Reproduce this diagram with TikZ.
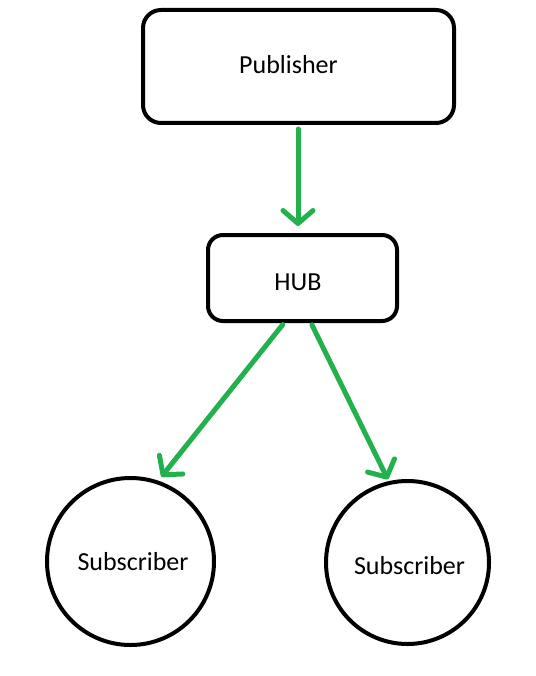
\documentclass[tikz,border=0pt]{standalone}
\usepackage{fontspec}
\setmainfont{Carlito}
\usetikzlibrary{arrows.meta}
\definecolor{pgreen}{HTML}{22B14C}
\begin{document}
\begin{tikzpicture}[x=1pt,y=-1pt,
  box/.style={draw=black,line width=4pt,rounded corners=18pt,fill=white},
  sub/.style={draw=black,line width=4pt,circle,inner sep=0pt},
  lbl/.style={font=\fontsize{26}{30}\selectfont},
  conn/.style={draw=pgreen,line width=5pt,line cap=round,
    -{Straight Barb[length=13pt,width=30pt,line cap=round,line join=round]}}]
\useasboundingbox (0,0) rectangle (535,676);
\node[box,minimum width=311pt,minimum height=113pt] (pub) at (298.5,66.5) {};
\node[lbl] (pubt) at (288.5,65) {Publisher};
\node[box,rounded corners=15pt,minimum width=189pt,minimum height=86pt] (hub) at (302.5,278) {};
\node[lbl] (hubt) at (298,282) {HUB};
\node[sub,minimum size=167pt] (s1) at (130.5,561.5) {};
\node[lbl] (s1t) at (133,562) {Subscriber};
\node[sub,minimum size=163pt] (s2) at (407.5,562.5) {};
\node[lbl] (s2t) at (409.5,566) {Subscriber};
\draw[conn,shorten <=4pt,shorten >=7pt] ([xshift=-0.5pt]pub.south) -- ([xshift=-4.5pt]hub.north);
\draw[conn,shorten <=2pt,shorten >=5pt] ([xshift=-18.5pt]hub.south) -- (s1.71.6);
\draw[conn,shorten <=2pt,shorten >=2pt] ([xshift=8.5pt]hub.south) -- (s2.103.5);
\end{tikzpicture}
\end{document}
